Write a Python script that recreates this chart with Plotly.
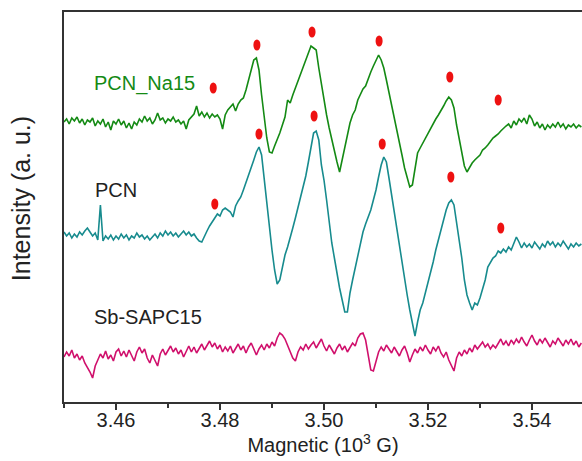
import plotly.graph_objects as go

# Field sweep (10^3 G)
field = [
    3.4500, 3.4505, 3.4510, 3.4515, 3.4520, 3.4525, 3.4530, 3.4535, 3.4540, 3.4545,
    3.4550, 3.4555, 3.4560, 3.4565, 3.4570, 3.4575, 3.4580, 3.4585, 3.4590, 3.4595,
    3.4600, 3.4605, 3.4610, 3.4615, 3.4620, 3.4625, 3.4630, 3.4635, 3.4640, 3.4645,
    3.4650, 3.4655, 3.4660, 3.4665, 3.4670, 3.4675, 3.4680, 3.4685, 3.4690, 3.4695,
    3.4700, 3.4705, 3.4710, 3.4715, 3.4720, 3.4725, 3.4730, 3.4735, 3.4740, 3.4745,
    3.4750, 3.4755, 3.4760, 3.4765, 3.4770, 3.4775, 3.4780, 3.4785, 3.4790, 3.4795,
    3.4800, 3.4805, 3.4810, 3.4815, 3.4820, 3.4825, 3.4830, 3.4835, 3.4840, 3.4845,
    3.4850, 3.4855, 3.4860, 3.4865, 3.4870, 3.4875, 3.4880, 3.4885, 3.4890, 3.4895,
    3.4900, 3.4905, 3.4910, 3.4915, 3.4920, 3.4925, 3.4930, 3.4935, 3.4940, 3.4945,
    3.4950, 3.4955, 3.4960, 3.4965, 3.4970, 3.4975, 3.4980, 3.4985, 3.4990, 3.4995,
    3.5000, 3.5005, 3.5010, 3.5015, 3.5020, 3.5025, 3.5030, 3.5035, 3.5040, 3.5045,
    3.5050, 3.5055, 3.5060, 3.5065, 3.5070, 3.5075, 3.5080, 3.5085, 3.5090, 3.5095,
    3.5100, 3.5105, 3.5110, 3.5115, 3.5120, 3.5125, 3.5130, 3.5135, 3.5140, 3.5145,
    3.5150, 3.5155, 3.5160, 3.5165, 3.5170, 3.5175, 3.5180, 3.5185, 3.5190, 3.5195,
    3.5200, 3.5205, 3.5210, 3.5215, 3.5220, 3.5225, 3.5230, 3.5235, 3.5240, 3.5245,
    3.5250, 3.5255, 3.5260, 3.5265, 3.5270, 3.5275, 3.5280, 3.5285, 3.5290, 3.5295,
    3.5300, 3.5305, 3.5310, 3.5315, 3.5320, 3.5325, 3.5330, 3.5335, 3.5340, 3.5345,
    3.5350, 3.5355, 3.5360, 3.5365, 3.5370, 3.5375, 3.5380, 3.5385, 3.5390, 3.5395,
    3.5400, 3.5405, 3.5410, 3.5415, 3.5420, 3.5425, 3.5430, 3.5435, 3.5440, 3.5445,
    3.5450, 3.5455, 3.5460, 3.5465, 3.5470, 3.5475, 3.5480, 3.5485, 3.5490, 3.5495,
]

# Stacked EPR spectra (a.u., offset for display)
pcn_na15 = [
    280, 283, 278, 284, 281, 285, 279, 283, 277, 282,
    280, 284, 276, 281, 278, 283, 275, 280, 272, 281,
    278, 283, 277, 281, 274, 279, 273, 280, 277, 283,
    280, 286, 281, 284, 278, 282, 289, 282, 284, 279,
    283, 281, 285, 280, 282, 278, 281, 273, 282, 285,
    288, 296, 286, 290, 285, 289, 284, 288, 285, 287,
    283, 273, 287, 292, 295, 298, 291, 298, 302, 304,
    312, 322, 332, 342, 344, 332, 307, 284, 264, 250,
    249, 256, 262, 269, 277, 285, 302, 299, 307, 314,
    320, 327, 334, 340, 349, 356, 354, 352, 334, 317,
    302, 287, 274, 262, 250, 240, 230, 242, 257, 269,
    279, 287, 292, 302, 307, 313, 316, 324, 330, 336,
    342, 347, 342, 334, 322, 310, 297, 284, 272, 259,
    247, 234, 224, 215, 217, 232, 249, 254, 259, 264,
    269, 274, 279, 283, 287, 291, 296, 301, 305, 302,
    294, 277, 262, 247, 236, 230, 235, 239, 242, 245,
    247, 252, 254, 257, 261, 264, 266, 268, 271, 274,
    276, 278, 274, 281, 277, 283, 280, 284, 278, 287,
    283, 276, 280, 274, 278, 272, 277, 274, 278, 275,
    280, 275, 278, 273, 277, 275, 278, 274, 277, 275,
]

pcn = [
    170, 166, 169, 164, 168, 165, 170, 167, 171, 174,
    170, 166, 169, 162, 197, 161, 166, 163, 167, 162,
    166, 163, 168, 164, 167, 162, 166, 164, 169, 165,
    167, 163, 166, 162, 165, 168, 164, 169, 166, 171,
    167, 170, 166, 169, 165, 168, 171, 167, 170, 166,
    168, 164, 161, 160, 166, 171, 176, 180, 184, 188,
    186, 192, 194, 192, 190, 185, 196, 201, 205, 212,
    219, 226, 234, 242, 250, 255, 247, 222, 197, 174,
    152, 132, 118, 122, 134, 147, 155, 166, 174, 184,
    194, 204, 214, 226, 240, 255, 269, 271, 262, 237,
    222, 202, 180, 159, 144, 127, 114, 102, 90, 90,
    109, 122, 134, 147, 158, 170, 178, 185, 192, 202,
    212, 225, 237, 245, 240, 224, 207, 189, 172, 154,
    140, 124, 107, 92, 77, 66, 80, 92, 99, 109,
    120, 128, 140, 152, 162, 174, 184, 192, 199, 202,
    197, 180, 162, 144, 122, 107, 99, 92, 99, 97,
    104, 112, 122, 135, 139, 144, 146, 151, 149, 153,
    150, 155, 152, 158, 165, 160, 154, 159, 155, 158,
    154, 160, 156, 153, 158, 155, 161, 157, 160, 155,
    159, 156, 161, 157, 153, 158, 155, 159, 156, 158,
]

sb_sapc15 = [
    45, 50, 46, 52, 44, 48, 42, 46, 39, 35,
    30, 24, 36, 42, 48, 44, 51, 43, 47, 41,
    50, 53, 46, 51, 45, 52, 47, 41, 50, 55,
    49, 53, 44, 39, 47, 42, 36, 48, 53, 47,
    51, 56, 50, 54, 48, 52, 45, 51, 56, 50,
    55, 49, 53, 58, 52, 57, 61, 55, 59, 53,
    57, 50, 55, 51, 56, 49, 54, 58, 52, 56,
    49, 55, 59, 53, 47, 53, 57, 52, 58, 54,
    60, 56, 64, 69, 67, 63, 57, 50, 44, 41,
    50, 55, 52, 58, 53, 57, 60, 54, 59, 63,
    56, 51, 57, 53, 48, 54, 58, 52, 56, 50,
    54, 59, 56, 64, 68, 69, 62, 47, 32, 31,
    40, 50, 55, 51, 57, 53, 49, 55, 51, 46,
    52, 56, 49, 40, 47, 53, 49, 55, 51, 57,
    52, 48, 55, 51, 56, 49, 45, 50, 42, 36,
    31, 44, 50, 46, 52, 48, 54, 50, 57, 53,
    56, 60, 55, 58, 53, 57, 54, 59, 63, 57,
    61, 56, 62, 58, 63, 59, 65, 60, 56, 62,
    67, 61, 57, 63, 59, 64, 60, 55, 61, 58,
    64, 60, 56, 62, 58, 63, 57, 61, 55, 59,
]

# Hyperfine line markers (field, intensity)
na15_mark_field = [3.4787, 3.4871, 3.4977, 3.5106, 3.5242, 3.5335]
na15_mark_int = [314, 357, 370, 361, 325, 302]
pcn_mark_field = [3.4790, 3.4875, 3.4981, 3.5112, 3.5244, 3.5340]
pcn_mark_int = [198, 268, 286, 258, 225, 174]

# Sample labels (name, field, intensity)
label_names = ["PCN_Na15", "PCN", "Sb-SAPC15"]
label_field = [3.4554, 3.4556, 3.4554]
label_int = [319, 212, 85]

GREEN = "#148a14"
TEAL = "#178b8e"
MAGENTA = "#d0106c"
RED = "#ee1111"
INK = "#222222"
FONT = "Liberation Sans, Arial, sans-serif"

fig = go.Figure()
for values, colour in [(pcn_na15, GREEN), (pcn, TEAL), (sb_sapc15, MAGENTA)]:
    fig.add_trace(go.Scatter(x=field, y=values, mode="lines",
                             line=dict(color=colour, width=1.6),
                             showlegend=False, hoverinfo="skip"))

# Elliptical dot markers at the resolved hyperfine lines
DX = 0.00068
DY = 5.5
shapes = []
for fs, ints in [(na15_mark_field, na15_mark_int), (pcn_mark_field, pcn_mark_int)]:
    for f, v in zip(fs, ints):
        shapes.append(dict(type="circle", xref="x", yref="y",
                           x0=f - DX, x1=f + DX, y0=v - DY, y1=v + DY,
                           fillcolor=RED, line=dict(width=0)))

label_colours = [GREEN, INK, INK]
annotations = [
    dict(x=f, y=v, xref="x", yref="y", text=name, showarrow=False,
         xanchor="left", yanchor="middle",
         font=dict(family=FONT, size=20, color=c))
    for name, f, v, c in zip(label_names, label_field, label_int, label_colours)
]
# Vertical intensity axis title
annotations.append(dict(
    x=-0.083, y=0.52, xref="paper", yref="paper", text="Intensity (a. u.)",
    showarrow=False, textangle=-90, xanchor="center", yanchor="middle",
    font=dict(family=FONT, size=25, color=INK)))

fig.update_layout(
    width=582, height=461,
    margin=dict(l=64, r=0, t=12, b=59),
    paper_bgcolor="white", plot_bgcolor="white",
    font=dict(family=FONT, size=20, color=INK),
    shapes=shapes, annotations=annotations,
    xaxis=dict(
        range=[3.45, 3.54962],
        showline=True, linewidth=2, linecolor="#333333", mirror=True,
        showgrid=False, zeroline=False,
        ticks="outside", ticklen=6, tickwidth=1.5, tickcolor="#333333",
        tick0=3.46, dtick=0.02, tickformat=".2f", ticklabelstandoff=-7,
        minor=dict(ticks="outside", ticklen=4, tickwidth=1.5,
                   tickcolor="#333333", tick0=3.45, dtick=0.01, showgrid=False),
        tickfont=dict(family=FONT, size=20, color=INK),
        title=dict(text="Magnetic (10<sup>3</sup> G)", standoff=8,
                   font=dict(family=FONT, size=20, color=INK)),
    ),
    yaxis=dict(
        range=[0, 390],
        showline=True, linewidth=2, linecolor="#333333", mirror=False,
        showgrid=False, zeroline=False, showticklabels=False, ticks="",
    ),
)

fig.write_html("out.html")
